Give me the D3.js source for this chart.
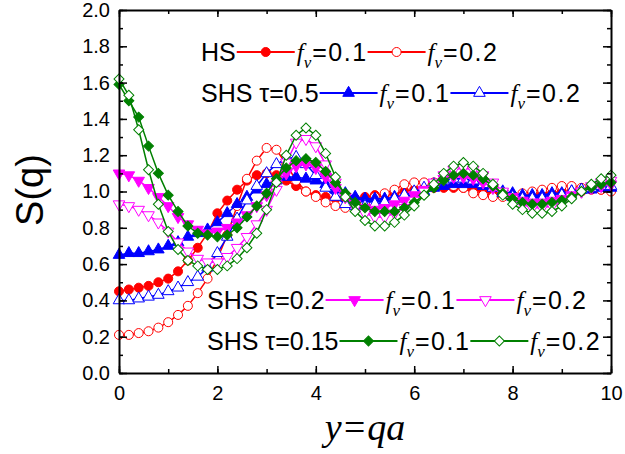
<!DOCTYPE html>
<html>
<head>
<meta charset="utf-8">
<script src="https://cdn.jsdelivr.net/npm/d3@7"></script>
<style>
  body { margin: 0; background: #fff; }
  svg { display: block; }
  text { font-family: "Liberation Sans", Arial, sans-serif; fill: #000; }
</style>
</head>
<body>
<svg id="chart" width="625" height="454"></svg>
<script>
// sampling grid y = qa (0 .. 10 in steps of 0.2)
const qa = d3.range(0, 10.001, 0.2);

// S(q) values, one value per grid point
const hsF1 = [0.45,
  0.46, 0.47, 0.48, 0.50, 0.52,
  0.56, 0.62, 0.69, 0.77, 0.88,
  0.95, 1.01, 1.06, 1.09, 1.10,
  1.09, 1.06, 1.03, 1.00, 0.98,
  0.97, 0.96, 0.96, 0.96, 0.97,
  0.98, 0.98, 0.99, 1.00, 1.01,
  1.02, 1.02, 1.02, 1.02, 1.02,
  1.01, 1.00, 0.99, 0.99, 0.98,
  0.98, 0.98, 0.99, 0.99, 1.00,
  1.00, 1.00, 1.01, 1.01, 1.01];
const hsF2 = [0.21,
  0.21, 0.22, 0.23, 0.25, 0.28,
  0.32, 0.37, 0.44, 0.52, 0.63,
  0.76, 0.92, 1.07, 1.17, 1.24,
  1.23, 1.15, 1.06, 1.00, 0.97,
  0.94, 0.92, 0.91, 0.92, 0.94,
  0.97, 0.99, 1.01, 1.04, 1.05,
  1.05, 1.05, 1.04, 1.03, 1.02,
  0.99, 0.98, 0.97, 0.97, 0.98,
  0.99, 1.00, 1.01, 1.02, 1.03,
  1.03, 1.02, 1.02, 1.01, 1.00];
const t05F1 = [0.65,
  0.66, 0.66, 0.67, 0.68, 0.70,
  0.72, 0.75, 0.77, 0.79, 0.83,
  0.88, 0.93, 0.97, 1.01, 1.04,
  1.06, 1.08, 1.08, 1.07, 1.06,
  1.04, 1.01, 0.99, 0.97, 0.96,
  0.96, 0.96, 0.97, 0.98, 0.99,
  1.00, 1.02, 1.03, 1.04, 1.04,
  1.04, 1.03, 1.02, 1.00, 0.99,
  0.98, 0.98, 0.98, 0.99, 0.99,
  1.00, 1.01, 1.01, 1.02, 1.02];
const t05F2 = [0.40,
  0.40, 0.41, 0.42, 0.43, 0.45,
  0.47, 0.50, 0.53, 0.58, 0.66,
  0.75, 0.85, 0.95, 1.03, 1.10,
  1.15, 1.18, 1.19, 1.15, 1.09,
  1.02, 0.97, 0.93, 0.92, 0.92,
  0.93, 0.94, 0.96, 0.98, 1.00,
  1.02, 1.04, 1.06, 1.07, 1.07,
  1.06, 1.04, 1.02, 0.99, 0.97,
  0.96, 0.96, 0.96, 0.97, 0.98,
  1.00, 1.01, 1.02, 1.03, 1.03];
const t02F1 = [1.10,
  1.09, 1.06, 1.02, 0.97, 0.92,
  0.86, 0.82, 0.79, 0.77, 0.78,
  0.80, 0.83, 0.87, 0.92, 0.98,
  1.04, 1.10, 1.14, 1.15, 1.13,
  1.08, 1.02, 0.97, 0.93, 0.91,
  0.90, 0.91, 0.93, 0.95, 0.98,
  1.01, 1.04, 1.07, 1.08, 1.08,
  1.07, 1.05, 1.02, 0.99, 0.97,
  0.95, 0.94, 0.94, 0.95, 0.96,
  0.98, 1.00, 1.02, 1.03, 1.04];
const t02F2 = [0.93,
  0.92, 0.90, 0.87, 0.83, 0.78,
  0.72, 0.67, 0.63, 0.61, 0.61,
  0.64, 0.69, 0.75, 0.82, 0.90,
  1.01, 1.16, 1.27, 1.29, 1.25,
  1.15, 1.05, 0.97, 0.91, 0.88,
  0.86, 0.86, 0.88, 0.91, 0.95,
  1.00, 1.05, 1.09, 1.12, 1.13,
  1.12, 1.09, 1.05, 1.00, 0.96,
  0.93, 0.91, 0.91, 0.92, 0.94,
  0.97, 1.00, 1.03, 1.05, 1.06];
const t015F1 = [1.59,
  1.50, 1.41, 1.25, 1.10, 0.98,
  0.89, 0.81, 0.77, 0.76, 0.75,
  0.76, 0.80, 0.86, 0.92, 0.99,
  1.07, 1.13, 1.17, 1.18, 1.16,
  1.11, 1.05, 0.99, 0.94, 0.91,
  0.89, 0.89, 0.89, 0.91, 0.94,
  0.98, 1.02, 1.06, 1.09, 1.10,
  1.09, 1.07, 1.03, 0.99, 0.96,
  0.94, 0.93, 0.93, 0.94, 0.95,
  0.97, 1.00, 1.02, 1.04, 1.05];
const t015F2 = [1.62,
  1.53, 1.34, 1.12, 0.93, 0.78,
  0.68, 0.62, 0.59, 0.57, 0.57,
  0.59, 0.63, 0.69, 0.77, 0.90,
  1.05, 1.20, 1.31, 1.35, 1.31,
  1.21, 1.08, 0.97, 0.89, 0.84,
  0.81, 0.81, 0.83, 0.87, 0.92,
  0.98, 1.04, 1.10, 1.14, 1.16,
  1.14, 1.10, 1.04, 0.98, 0.93,
  0.90, 0.88, 0.88, 0.89, 0.92,
  0.96, 1.00, 1.04, 1.07, 1.09];

const xTicks = [0, 2, 4, 6, 8, 10];
const yTicks = [0, 0.2, 0.4, 0.6, 0.8, 1.0, 1.2, 1.4, 1.6, 1.8, 2.0];
const groupLabels = ["HS", "SHS \u03c4=0.5", "SHS \u03c4=0.2", "SHS \u03c4=0.15"];
const fvLabels = ["=0.1", "=0.2"];

const svg = d3.select("#chart");
const plotL = 119, plotR = 611, plotT = 10, plotB = 373;

const x = d3.scaleLinear().domain([0, 10]).range([plotL, plotR]);
const y = d3.scaleLinear().domain([0, 2]).range([plotB, plotT]);

// --- series styling
const series = [
  { values: hsF1,   color: "#ff0000", shape: "circle",   filled: true },
  { values: hsF2,   color: "#ff0000", shape: "circle",   filled: false },
  { values: t05F1,  color: "#0000ff", shape: "up",       filled: true },
  { values: t05F2,  color: "#0000ff", shape: "up",       filled: false },
  { values: t02F1,  color: "#ff00ff", shape: "down",     filled: true },
  { values: t02F2,  color: "#ff00ff", shape: "down",     filled: false },
  { values: t015F1, color: "#008000", shape: "diamond",  filled: true },
  { values: t015F2, color: "#008000", shape: "diamond",  filled: false }
];

const symbolPath = {
  circle: d3.symbol().type(d3.symbolCircle).size(64)(),
  up: d3.symbol().type(d3.symbolTriangle).size(58)(),
  down: d3.symbol().type(d3.symbolTriangle).size(58)(),
  diamond: d3.symbol().type(d3.symbolSquare).size(50)()
};
const symbolRotate = { circle: 0, up: 0, down: 180, diamond: 45 };

function drawMarker(g, shape, color, filled, cx, cy) {
  g.append("path")
    .attr("d", symbolPath[shape])
    .attr("transform", `translate(${cx},${cy}) rotate(${symbolRotate[shape]})`)
    .attr("fill", filled ? color : "#fff")
    .attr("stroke", color)
    .attr("stroke-width", 1);
}

// --- draw curves
const line = d3.line().x((d, i) => x(qa[i])).y(d => y(d));
const plot = svg.append("g");
series.forEach(s => {
  const g = plot.append("g");
  g.append("path")
    .datum(s.values)
    .attr("d", line)
    .attr("fill", "none")
    .attr("stroke", s.color)
    .attr("stroke-width", 1.5);
  s.values.forEach((v, i) => drawMarker(g, s.shape, s.color, s.filled, x(qa[i]), y(v)));
});

// --- axes (ticks point inwards, like Origin)
function styleAxis(g) {
  g.selectAll("path.domain").attr("stroke", "#000").attr("stroke-width", 2);
  g.selectAll(".tick line").attr("stroke", "#000").attr("stroke-width", 1.5);
  g.selectAll("text").attr("font-size", 20).attr("font-family", "Liberation Sans, Arial, sans-serif");
}

svg.append("g").attr("transform", `translate(0,${plotB})`)
  .call(d3.axisBottom(x).tickValues(d3.range(0, 11, 1)).tickSizeInner(-4).tickSizeOuter(0).tickFormat(""))
  .call(g => g.select(".domain").remove())
  .call(styleAxis);
svg.append("g").attr("transform", `translate(0,${plotB})`)
  .call(d3.axisBottom(x).tickValues(xTicks).tickSizeInner(-7).tickSizeOuter(0).tickPadding(13).tickFormat(d3.format("d")))
  .call(styleAxis);

svg.append("g").attr("transform", `translate(0,${plotT})`)
  .call(d3.axisTop(x).tickValues(d3.range(0, 11, 1)).tickSizeInner(-4).tickSizeOuter(0).tickFormat(""))
  .call(g => g.select(".domain").remove())
  .call(styleAxis);
svg.append("g").attr("transform", `translate(0,${plotT})`)
  .call(d3.axisTop(x).tickValues(xTicks).tickSizeInner(-7).tickSizeOuter(0).tickFormat(""))
  .call(styleAxis);

svg.append("g").attr("transform", `translate(${plotL},0)`)
  .call(d3.axisLeft(y).tickValues(d3.range(0, 2.001, 0.1)).tickSizeInner(-4).tickSizeOuter(0).tickFormat(""))
  .call(g => g.select(".domain").remove())
  .call(styleAxis);
svg.append("g").attr("transform", `translate(${plotL},0)`)
  .call(d3.axisLeft(y).tickValues(yTicks).tickSizeInner(-8).tickSizeOuter(0).tickPadding(9).tickFormat(d3.format(".1f")))
  .call(styleAxis);

svg.append("g").attr("transform", `translate(${plotR},0)`)
  .call(d3.axisRight(y).tickValues(d3.range(0, 2.001, 0.1)).tickSizeInner(-4).tickSizeOuter(0).tickFormat(""))
  .call(g => g.select(".domain").remove())
  .call(styleAxis);
svg.append("g").attr("transform", `translate(${plotR},0)`)
  .call(d3.axisRight(y).tickValues(yTicks).tickSizeInner(-8).tickSizeOuter(0).tickFormat(""))
  .call(styleAxis);

// --- axis titles
svg.append("text")
  .attr("transform", `translate(43,190) rotate(-90)`)
  .attr("text-anchor", "middle")
  .attr("font-size", 38)
  .text("S(q)");

svg.append("text")
  .attr("x", 365).attr("y", 440)
  .attr("text-anchor", "middle")
  .attr("font-size", 38)
  .style("font-family", "Liberation Serif, Times New Roman, serif")
  .style("font-style", "italic")
  .text("y=qa");

// --- legend
const legendRows = [
  { label: groupLabels[0], x: 201, y: 52, pair: [series[0], series[1]] },
  { label: groupLabels[1], x: 201, y: 93, pair: [series[2], series[3]] },
  { label: groupLabels[2], x: 207, y: 300, pair: [series[4], series[5]] },
  { label: groupLabels[3], x: 207, y: 341, pair: [series[6], series[7]] }
];
const legendFont = 25;
const segLen = 58;

const legend = svg.append("g");
legendRows.forEach(row => {
  const g = legend.append("g");
  const base = row.y + 9;
  let cx = row.x;
  const lab = g.append("text").attr("x", cx).attr("y", base)
    .attr("font-size", legendFont).text(row.label);
  cx += lab.node().getComputedTextLength() + 1;

  row.pair.forEach((s, k) => {
    g.append("line")
      .attr("x1", cx).attr("x2", cx + segLen)
      .attr("y1", row.y).attr("y2", row.y)
      .attr("stroke", s.color).attr("stroke-width", 2);
    drawMarker(g, s.shape, s.color, s.filled, cx + segLen / 2, row.y);
    cx += segLen + 2;

    const t = g.append("text").attr("x", cx).attr("y", base).attr("font-size", legendFont);
    t.append("tspan")
      .style("font-family", "Liberation Serif, Times New Roman, serif")
      .style("font-style", "italic")
      .text("f");
    t.append("tspan")
      .attr("dy", 7)
      .attr("font-size", 17)
      .style("font-family", "Liberation Serif, Times New Roman, serif")
      .style("font-style", "italic")
      .text("v");
    t.append("tspan")
      .attr("dy", -7)
      .attr("dx", 1)
      .style("letter-spacing", "1.5px")
      .text(fvLabels[k]);
    cx += t.node().getComputedTextLength() + 1;
  });
});
</script>
</body>
</html>
